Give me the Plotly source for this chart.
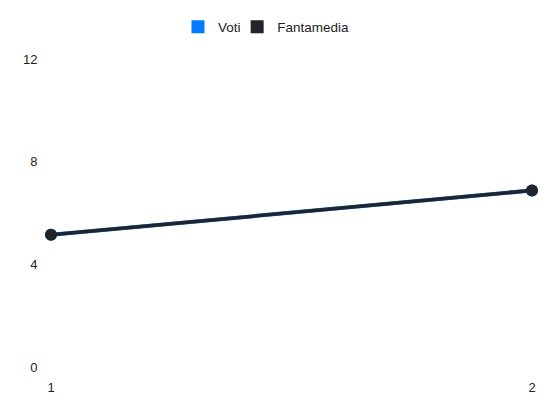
import plotly.graph_objects as go

giornate = [1, 2]
voti = [5.15, 6.88]
fantamedia = [5.15, 6.88]
y_ticks = [0, 4, 8, 12]

BLUE = "#007bff"
DARK = "#212529"

fig = go.Figure()

# voti sotto, fantamedia sopra (stessi valori)
fig.add_trace(go.Scatter(
    x=giornate, y=voti, mode="lines+markers", name="Voti",
    line=dict(color=BLUE, width=4), marker=dict(color=BLUE, size=12),
    showlegend=False, cliponaxis=False,
))
fig.add_trace(go.Scatter(
    x=giornate, y=fantamedia, mode="lines+markers", name="Fantamedia",
    line=dict(color=DARK, width=3.5), marker=dict(color=DARK, size=12),
    showlegend=False, cliponaxis=False,
))

# voci legenda a quadrato, una legenda per voce per controllare la spaziatura
for name, col, leg in [("Voti", BLUE, "legend"), ("Fantamedia", DARK, "legend2")]:
    fig.add_trace(go.Scatter(
        x=[None], y=[None], mode="markers", name=name, legend=leg,
        marker=dict(color=col, size=13, symbol="square"),
    ))

leg_style = dict(orientation="h", xanchor="left", y=1.104, yanchor="middle",
                 font=dict(size=13.5), itemwidth=30,
                 bgcolor="rgba(0,0,0,0)")

# la pagina ha 8px di margine sul body
fig.update_layout(
    width=542, height=404,
    margin=dict(l=43, r=18, t=51, b=45, autoexpand=False),
    paper_bgcolor="white", plot_bgcolor="white",
    font=dict(family="Liberation Sans, Arial, sans-serif", size=13, color="#222"),
    legend=dict(x=0.264, **leg_style),
    legend2=dict(x=0.387, **leg_style),
)
fig.update_xaxes(
    range=[1, 2], tickvals=giornate, showgrid=False, zeroline=False,
    showline=False, ticks="outside", ticklen=8, tickcolor="white",
)
fig.update_yaxes(
    range=[0, 12], tickvals=y_ticks, showgrid=False, zeroline=False,
    showline=False, ticks="outside", ticklen=10, tickcolor="white",
)

fig.write_html("out.html")
